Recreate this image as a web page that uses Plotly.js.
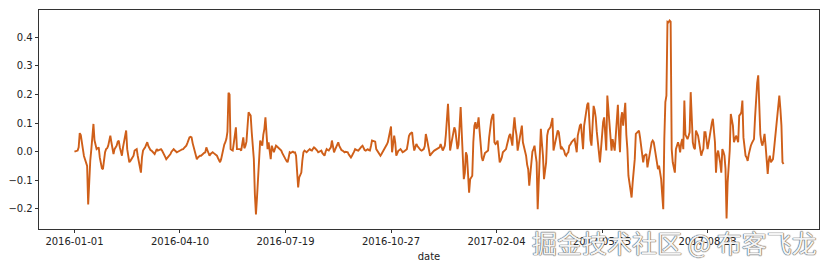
<!DOCTYPE html>
<html>
<head>
<meta charset="utf-8">
<script src="https://cdn.plot.ly/plotly-3.0.1.min.js"></script>
<style>html,body{margin:0;padding:0;background:#fff;}#chart{width:830px;height:266px;}</style>
</head>
<body>
<div id="chart"></div>
<script>
// Daily series, index 0 = 2016-01-01
const values = [
0.000,0.002,0.003,0.004,0.015,0.065,0.058,0.040,0.009,-0.015,
-0.026,-0.035,-0.050,-0.184,-0.090,-0.030,0.009,0.050,0.097,0.040,
0.020,0.009,0.012,0.015,-0.020,-0.045,-0.058,-0.061,-0.030,-0.002,
0.009,0.012,0.021,0.040,0.056,0.033,0.010,-0.008,0.009,0.015,
0.021,0.035,0.039,0.015,-0.005,-0.014,0.015,0.040,0.065,0.074,
0.009,-0.020,-0.037,-0.032,-0.026,-0.020,-0.014,0.004,0.006,0.009,
-0.015,-0.040,-0.060,-0.073,-0.020,0.004,0.010,0.015,0.025,0.033,
0.020,0.009,0.006,0.004,0.000,-0.004,-0.008,0.000,0.009,0.004,
0.006,0.008,0.009,0.004,-0.002,-0.010,-0.018,-0.026,-0.022,-0.018,
-0.014,-0.008,0.000,0.006,0.009,0.005,0.000,-0.002,0.000,0.003,
0.004,0.006,0.008,0.009,0.013,0.017,0.021,0.030,0.045,0.050,
0.052,0.050,0.030,0.015,0.003,-0.008,-0.026,-0.020,-0.016,-0.014,
-0.014,-0.010,-0.008,-0.004,-0.002,0.015,0.005,-0.002,-0.014,-0.008,
-0.004,-0.002,-0.005,-0.008,-0.011,-0.014,-0.022,-0.030,-0.037,-0.026,
-0.005,0.015,0.025,0.033,0.045,0.070,0.206,0.200,0.009,0.006,
0.004,0.030,0.070,0.085,0.009,0.009,0.007,0.009,0.004,0.030,
0.050,0.012,0.020,0.035,0.080,0.138,0.132,0.126,0.068,0.020,
-0.026,-0.150,-0.219,-0.160,-0.090,-0.037,0.039,0.030,0.021,0.060,
0.080,0.120,0.060,0.009,0.033,0.000,-0.026,0.021,0.010,-0.002,
0.010,0.021,0.018,0.015,0.010,0.006,0.004,-0.005,-0.014,-0.020,
-0.026,-0.032,-0.037,-0.020,-0.002,-0.004,-0.002,0.000,-0.003,-0.002,
-0.014,-0.060,-0.125,-0.090,-0.080,-0.073,-0.030,-0.002,0.004,0.001,
-0.002,0.002,0.006,0.009,0.005,0.004,0.010,0.015,0.012,0.009,
0.004,-0.002,0.000,0.002,0.004,-0.005,-0.010,-0.014,0.000,0.009,
0.006,0.004,0.010,0.015,0.039,0.020,-0.002,0.007,0.015,0.028,
0.033,0.020,0.012,0.006,0.004,0.001,-0.002,0.000,-0.002,-0.002,
-0.010,-0.016,-0.020,-0.014,-0.008,0.000,0.009,0.006,0.005,0.004,
0.010,0.015,0.018,0.021,0.012,0.006,0.004,0.008,0.009,0.005,
0.004,0.020,0.039,0.038,0.036,0.035,0.009,0.004,-0.002,-0.008,
-0.014,-0.008,-0.002,0.004,0.010,0.015,0.025,0.033,0.056,0.075,
0.088,-0.002,0.030,0.056,0.033,-0.014,-0.005,0.004,0.006,0.009,
0.004,-0.002,0.000,0.002,0.004,0.009,0.030,0.055,0.062,0.065,
0.068,0.030,0.004,0.015,0.027,0.020,0.015,0.009,0.006,0.004,
0.006,0.009,0.020,0.062,0.045,0.021,0.000,-0.014,-0.008,-0.002,
0.000,0.004,0.006,0.009,0.011,0.013,0.015,0.027,0.015,0.004,
0.012,0.021,0.060,0.100,0.167,0.090,0.004,0.025,0.044,0.075,
0.085,0.074,0.040,0.009,0.025,0.080,0.156,0.070,-0.050,-0.096,
-0.073,-0.002,-0.014,-0.080,-0.143,-0.096,-0.090,-0.084,0.033,0.090,
0.103,0.080,0.090,0.120,0.070,0.021,-0.020,-0.032,-0.014,-0.005,
-0.002,0.002,0.004,0.050,0.091,0.110,0.125,0.132,0.033,0.027,
0.030,0.039,0.000,-0.037,-0.030,-0.020,-0.002,0.003,0.007,0.009,
0.025,0.044,0.055,0.062,0.040,0.021,0.080,0.120,0.080,0.056,
0.004,0.030,0.056,0.080,0.091,0.033,0.015,0.004,-0.014,-0.045,
-0.061,-0.119,-0.070,-0.037,0.000,0.009,0.021,-0.010,-0.037,-0.201,
-0.096,0.000,0.080,0.030,-0.014,-0.096,-0.060,-0.037,0.056,0.075,
0.080,0.085,0.100,0.118,0.004,0.020,0.033,0.060,0.074,0.068,
0.040,0.009,0.015,0.010,0.004,-0.010,-0.014,-0.006,-0.002,0.021,
0.025,0.033,0.039,0.041,0.044,0.020,-0.002,0.056,0.080,0.091,
0.097,0.050,0.009,0.090,0.115,0.150,0.165,0.171,0.091,0.040,
0.021,0.100,0.160,0.145,0.120,0.070,0.033,-0.010,-0.037,0.009,
0.060,0.103,0.120,0.060,0.004,0.196,0.150,0.103,0.040,0.004,
0.044,0.020,0.004,0.056,0.110,0.164,0.060,-0.002,0.115,0.138,
0.091,0.130,0.171,0.060,0.009,-0.084,-0.108,-0.140,-0.160,-0.108,
-0.060,-0.026,0.062,0.065,0.068,0.074,0.050,0.021,-0.010,-0.037,
-0.014,-0.010,-0.008,-0.055,-0.030,-0.002,0.020,0.033,0.039,0.033,
0.010,-0.014,-0.040,-0.061,-0.049,-0.070,-0.096,-0.150,-0.201,0.044,
0.173,0.196,0.454,0.452,0.458,0.454,0.009,-0.037,-0.055,-0.073,
0.009,0.020,0.033,0.021,-0.002,0.030,0.044,0.009,0.179,0.060,
0.050,0.044,0.055,0.068,0.208,0.100,0.033,0.015,0.009,0.074,
0.065,0.056,0.033,0.010,-0.014,0.000,0.009,0.068,0.068,0.040,
0.009,0.030,0.056,0.085,0.100,0.115,0.060,0.033,-0.073,-0.010,
0.004,-0.014,-0.040,-0.073,0.009,0.000,-0.014,-0.060,-0.233,-0.108,
-0.050,0.004,0.132,0.110,0.091,0.033,0.045,0.056,0.045,0.033,
0.126,0.130,0.138,0.179,0.050,0.009,-0.014,-0.020,-0.032,-0.010,
0.009,0.021,0.030,0.039,0.044,0.120,0.196,0.240,0.267,0.115,
0.060,0.033,0.021,0.040,0.062,0.021,-0.020,-0.078,-0.030,-0.014,
-0.037,-0.030,-0.026,0.009,0.050,0.091,0.130,0.156,0.196,0.150,
0.091,-0.037,-0.043
];
const tickLabels = ["2016-01-01","2016-04-10","2016-07-19","2016-10-27","2017-02-04","2017-05-15","2017-08-23"];
const tickStep = 100;
const yTicks = [-0.2,-0.1,0.0,0.1,0.2,0.3,0.4];
const xLabel = "date";
const watermark = "掘金技术社区 @ 布客飞龙";

const xIdx = values.map((_, i) => i);
const n = values.length - 1;
const pad = 0.05 * n;

const trace = {
  x: xIdx, y: values, type: 'scatter', mode: 'lines',
  line: {color: '#cf5f19', width: 1.9},
  hoverinfo: 'skip'
};
const font = {family: 'DejaVu Sans', size: 10, color: '#222'};
const layout = {
  width: 830, height: 266,
  margin: {l: 39, r: 11, t: 10, b: 37},
  paper_bgcolor: '#fff', plot_bgcolor: '#fff',
  showlegend: false,
  font: font,
  xaxis: {
    range: [-pad, n + pad],
    tickvals: tickLabels.map((_, i) => i * tickStep),
    ticktext: tickLabels,
    ticks: 'outside', ticklen: 3.5, tickwidth: 0.8, tickcolor: '#000',
    showgrid: false, zeroline: false,
    showline: true, mirror: true, linecolor: '#000', linewidth: 0.8,
    tickfont: font,
    title: {text: xLabel, font: font, standoff: 6}
  },
  yaxis: {
    range: [-0.27, 0.495],
    tickvals: yTicks,
    tickformat: '.1f',
    ticks: 'outside', ticklen: 3.5, tickwidth: 0.8, tickcolor: '#000',
    showgrid: false, zeroline: false,
    showline: true, mirror: true, linecolor: '#000', linewidth: 0.8,
    tickfont: font
  },
  annotations: [{
    text: watermark, xref: 'paper', yref: 'paper',
    x: 1.0, y: -0.06, xanchor: 'right', yanchor: 'middle',
    showarrow: false,
    font: {family: 'Noto Sans CJK SC', size: 25, color: 'rgba(255,255,255,0.95)',
           shadow: '0 0 1px #555, 0 0 1px #555, 0 0 1px #555'}
  }]
};
Plotly.newPlot('chart', [trace], layout, {staticPlot: true, displayModeBar: false});
</script>
</body>
</html>
